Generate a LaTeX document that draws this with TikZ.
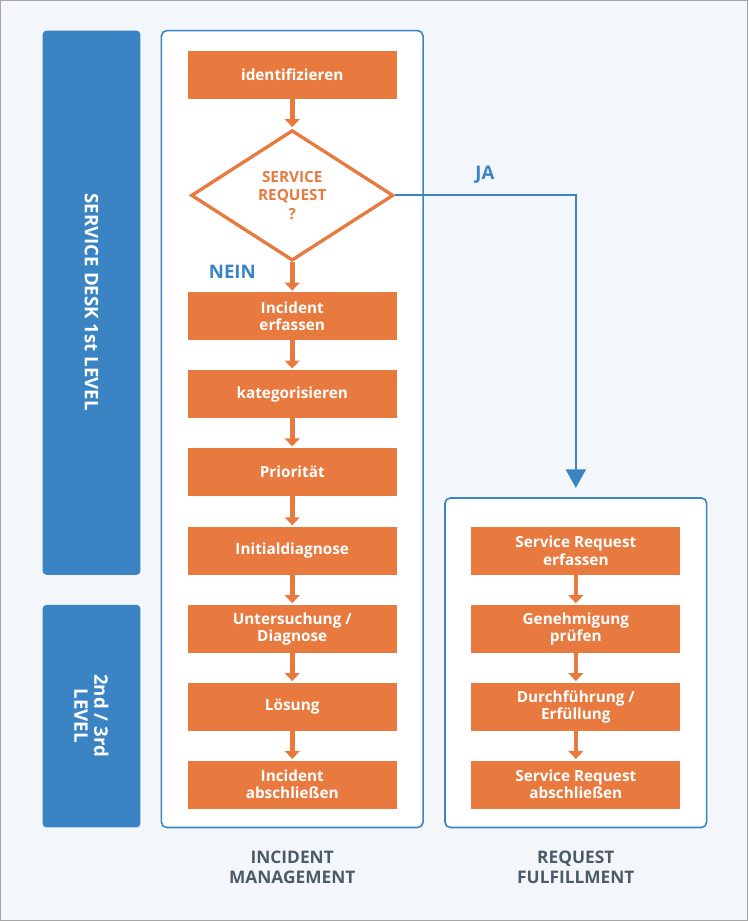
\documentclass[tikz,border=0pt]{standalone}
\usepackage{fontspec}
\setmainfont{Open Sans}
\usepackage{xcolor}
\usepackage{tikz}
\usetikzlibrary{shapes.geometric}
\usetikzlibrary{arrows.meta}
\definecolor{deskblue}{HTML}{3A84C4}
\definecolor{stepor}{HTML}{E87A40}
\definecolor{bggray}{HTML}{F3F7FC}
\definecolor{capgray}{HTML}{4D5A68}
\tikzset{
    stepbox/.style = {rectangle, fill=stepor, text=white, align=center, font=\bfseries\fontsize{11.5}{13}\selectfont, minimum width=157pt, minimum height=36pt, inner sep=0pt},
    framebox/.style = {draw=deskblue, line width=1.2pt, fill=white, rounded corners=4pt},
    levelbar/.style = {fill=deskblue, rounded corners=3pt},
    barlabel/.style = {text=white, font=\bfseries\fontsize{14}{15}\selectfont, align=center, rotate=-90},
    steparrow/.style = {stepor, line width=3.5pt, -{Triangle[width=11pt,length=6pt]}, shorten >=1pt},
    captext/.style = {text=capgray, font=\bfseries\fontsize{13}{15}\selectfont, align=center}
}
\begin{document}
\begin{tikzpicture}[x=0.75pt,y=-0.75pt]
\draw[fill=bggray, draw=gray!70, line width=1pt] (0,0) rectangle (748,921);
\useasboundingbox (0,0) rectangle (748,921);
% level bars
\fill[levelbar] (42,30) rectangle (140,575);
\node[barlabel] (desk) at (91,302) {SERVICE DESK 1st LEVEL};
\fill[levelbar] (42,605) rectangle (140,828);
\node[barlabel] (second) at (91,716) {2nd / 3rd\\LEVEL};
% frames
\draw[framebox] (161,30) rectangle (423,828);
\draw[framebox] (445,498) rectangle (707,828);
% incident management
\node[stepbox] (ident) at (292,74) {identifizieren};
\node[diamond, draw=stepor, line width=2.5pt, fill=white, text=stepor, align=center,
      font=\bfseries\fontsize{11.5}{14}\selectfont, minimum width=152pt, minimum height=98pt,
      inner sep=0pt] (sr) at (292,195) {SERVICE\\REQUEST\\?};
\node[stepbox] (erf) at (292,316) {Incident\\erfassen};
\node[stepbox] (kat) at (292,394) {kategorisieren};
\node[stepbox] (prio) at (292,472) {Priorität};
\node[stepbox] (init) at (292,551) {Initialdiagnose};
\node[stepbox] (unt) at (292,629) {Untersuchung /\\Diagnose};
\node[stepbox] (loes) at (292,707) {Lösung};
\node[stepbox] (absch) at (292,785) {Incident\\abschließen};
% request fulfillment
\node[stepbox] (srerf) at (576,551) {Service Request\\erfassen};
\node[stepbox] (gen) at (576,629) {Genehmigung\\prüfen};
\node[stepbox] (durch) at (576,707) {Durchführung /\\Erfüllung};
\node[stepbox] (srab) at (576,785) {Service Request\\abschließen};
%
\draw[steparrow] (ident) -- (sr);
\draw[steparrow] (sr) -- (erf);
\draw[steparrow] (erf) -- (kat);
\draw[steparrow] (kat) -- (prio);
\draw[steparrow] (prio) -- (init);
\draw[steparrow] (init) -- (unt);
\draw[steparrow] (unt) -- (loes);
\draw[steparrow] (loes) -- (absch);
\draw[steparrow] (srerf) -- (gen);
\draw[steparrow] (gen) -- (durch);
\draw[steparrow] (durch) -- (srab);
%
\coordinate (jatip) at (576,488);
\draw[deskblue, line width=1.6pt, -{Triangle[width=15pt,length=14pt]}] (sr.east) -| (jatip);
\node[text=deskblue, font=\bfseries\fontsize{14}{16}\selectfont] (ja) at (485,174) {JA};
\node[text=deskblue, font=\bfseries\fontsize{14}{16}\selectfont] (nein) at (232,272) {NEIN};
% captions
\node[captext] (capinc) at (292,868) {INCIDENT\\MANAGEMENT};
\node[captext] (capreq) at (576,868) {REQUEST\\FULFILLMENT};
\end{tikzpicture}
\end{document}
